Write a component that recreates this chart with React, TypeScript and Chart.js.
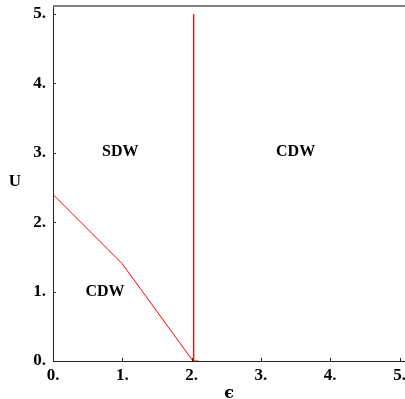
import React, { useEffect, useRef } from "react";
import { Chart, registerables } from "chart.js";

Chart.register(...registerables);

// Data
const xTicks = [0, 1, 2, 3, 4, 5];
const yTicks = [0, 1, 2, 3, 4, 5];
const boundaryX = [0, 1, 2.02];
const boundaryY = [2.4, 1.4, 0];
const verticalX = [2.03, 2.03];
const verticalY = [0, 5];
const baseX = [2.02, 2.1];
const baseY = [0, 0];
const phaseLabels = ["SDW", "CDW", "CDW"];
const phaseX = [0.97, 3.5, 0.75];
const phaseY = [3.02, 3.02, 1.0];
const xTitle = "\u03F5";
const yTitle = "U";

const FONT = "'Liberation Serif', 'Times New Roman', serif";

const toPts = (xs: number[], ys: number[]) => xs.map((x, i) => ({ x, y: ys[i] }));

const framePlugin = {
  id: "frame",
  afterDraw(chart: any) {
    const { ctx, chartArea, scales } = chart;
    const xs = scales.x;
    const ys = scales.y;
    ctx.save();
    // top gray border
    ctx.strokeStyle = "#808080";
    ctx.lineWidth = 2;
    ctx.beginPath();
    ctx.moveTo(chartArea.left, chartArea.top - 1);
    ctx.lineTo(chart.width, chartArea.top - 1);
    ctx.stroke();
    // axes
    ctx.strokeStyle = "#222";
    ctx.lineWidth = 1;
    ctx.beginPath();
    ctx.moveTo(chartArea.left + 0.5, chartArea.top);
    ctx.lineTo(chartArea.left + 0.5, chartArea.bottom + 0.5);
    ctx.lineTo(chart.width, chartArea.bottom + 0.5);
    ctx.stroke();
    // inward ticks
    ctx.beginPath();
    xTicks.forEach((v) => {
      const px = Math.round(xs.getPixelForValue(v)) + 0.5;
      ctx.moveTo(px, chartArea.bottom);
      ctx.lineTo(px, chartArea.bottom - 3);
    });
    yTicks.forEach((v) => {
      const py = Math.round(ys.getPixelForValue(v)) + 0.5;
      ctx.moveTo(chartArea.left, py);
      ctx.lineTo(chartArea.left + 3, py);
    });
    ctx.stroke();
    // phase labels
    ctx.fillStyle = "#000";
    ctx.font = `bold 16px ${FONT}`;
    ctx.textAlign = "center";
    ctx.textBaseline = "middle";
    phaseLabels.forEach((t, i) => {
      ctx.fillText(t, xs.getPixelForValue(phaseX[i]), ys.getPixelForValue(phaseY[i]));
    });
    // axis titles
    ctx.font = `bold 17px ${FONT}`;
    ctx.fillText(yTitle, 15, 182);
    ctx.font = `bold 16px 'DejaVu Serif', ${FONT}`;
    ctx.fillText(xTitle, 229, 394);
    ctx.restore();
  },
};

const zeroPad = (s: any) => {
  s.paddingTop = 0;
  s.paddingBottom = 0;
  s.paddingLeft = 0;
  s.paddingRight = 0;
};

export default function App() {
  const ref = useRef<HTMLCanvasElement>(null);
  useEffect(() => {
    if (!ref.current) return;
    const line = (xs: number[], ys: number[], w: number) => ({
      data: toPts(xs, ys),
      showLine: true,
      borderColor: "#ff0000",
      borderWidth: w,
      pointRadius: 0,
      fill: false,
      tension: 0,
    });
    const chart = new Chart(ref.current, {
      type: "scatter",
      data: {
        datasets: [
          line(boundaryX, boundaryY, 1),
          line(verticalX, verticalY, 1.3),
          line(baseX, baseY, 1),
        ],
      },
      plugins: [framePlugin],
      options: {
        animation: false,
        responsive: false,
        maintainAspectRatio: false,
        layout: { padding: { top: 7, right: 2, left: 0, bottom: 0 } },
        plugins: { legend: { display: false }, tooltip: { enabled: false } },
        scales: {
          x: {
            type: "linear",
            min: 0,
            max: 5.05,
            afterBuildTicks: (s: any) => {
              s.ticks = xTicks.map((v) => ({ value: v }));
            },
            afterFit: (s: any) => {
              s.height = 38;
              zeroPad(s);
            },
            grid: { display: false, drawTicks: false },
            border: { display: false },
            ticks: {
              autoSkip: false,
              maxRotation: 0,
              padding: 4,
              color: "#000",
              font: { family: FONT, size: 17, weight: "bold" },
              callback: (v: any) => `${v}.`,
            },
          },
          y: {
            type: "linear",
            min: 0,
            max: 5.1,
            afterBuildTicks: (s: any) => {
              s.ticks = yTicks.map((v) => ({ value: v }));
            },
            afterFit: (s: any) => {
              s.width = 53;
              zeroPad(s);
            },
            grid: { display: false, drawTicks: false },
            border: { display: false },
            ticks: {
              autoSkip: false,
              padding: 7,
              color: "#000",
              font: { family: FONT, size: 17, weight: "bold" },
              callback: (v: any) => `${v}.`,
            },
          },
        },
      },
    });
    return () => chart.destroy();
  }, []);
  return (
    <div style={{ position: "fixed", left: 0, top: 0, width: 405, height: 399, background: "#fff" }}>
      <canvas ref={ref} width={405} height={399} style={{ width: 405, height: 399 }} />
    </div>
  );
}
